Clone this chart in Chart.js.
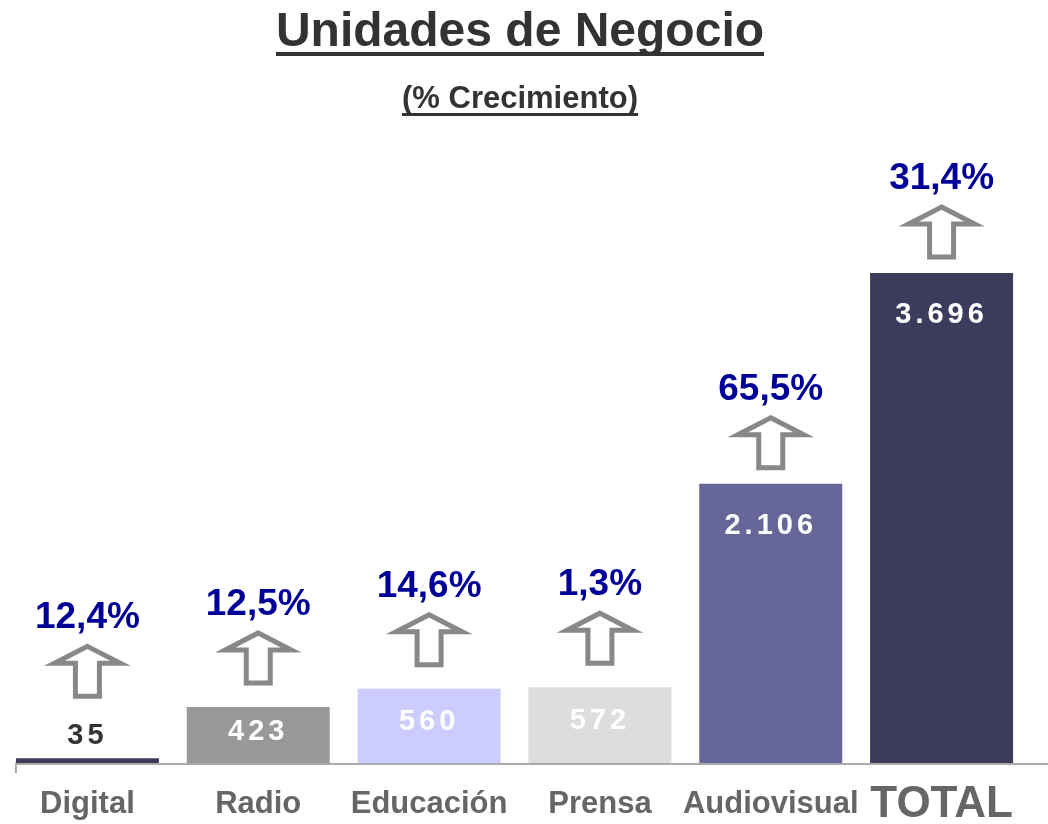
<!DOCTYPE html>
<html>
<head>
<meta charset="utf-8">
<script src="https://cdn.jsdelivr.net/npm/chart.js@4/dist/chart.umd.min.js"></script>
<style>
  body { margin: 0; background: #fff; }
  #wrap { position: relative; width: 1048px; height: 824px; font-family: "Liberation Sans", Arial, sans-serif; }
  #chart { position: absolute; left: 0; top: 0; }
  .title {
    position: absolute; left: 0; width: 1040px; text-align: center;
    font-weight: bold; color: #333; text-decoration: underline;
    text-decoration-skip-ink: none;
  }
  #t1 { top: 6px; font-size: 48px; line-height: 48px; text-decoration-thickness: 4px; text-underline-offset: 6px; }
  #t2 { top: 82px; font-size: 31px; line-height: 31px; text-decoration-thickness: 3px; text-underline-offset: 5px; }
</style>
</head>
<body>
<div id="wrap">
  <canvas id="chart" width="1048" height="824"></canvas>
  <div class="title" id="t1">Unidades de Negocio</div>
  <div class="title" id="t2">(% Crecimiento)</div>
</div>
<script>
const categories = ['Digital', 'Radio', 'Educación', 'Prensa', 'Audiovisual', 'TOTAL'];
const values = [35, 423, 560, 572, 2106, 3696];
const growth = [12.4, 12.5, 14.6, 1.3, 65.5, 31.4];
const barColors = ['#3b3b5c', '#999999', '#ccccff', '#dddddd', '#666699', '#3b3b5c'];

const fontFamily = '"Liberation Sans", Arial, sans-serif';

function fmtValue(v) {
  return String(v).replace(/\B(?=(\d{3})+(?!\d))/g, '.');
}

function fmtGrowth(g) {
  return g.toFixed(1).replace('.', ',') + '%';
}

function drawArrow(ctx, x, tip) {
  const headW = 33, shaftW = 12, headH = 17, total = 50;
  ctx.beginPath();
  ctx.moveTo(x, tip);
  ctx.lineTo(x + headW, tip + headH);
  ctx.lineTo(x + shaftW, tip + headH);
  ctx.lineTo(x + shaftW, tip + total);
  ctx.lineTo(x - shaftW, tip + total);
  ctx.lineTo(x - shaftW, tip + headH);
  ctx.lineTo(x - headW, tip + headH);
  ctx.closePath();
  ctx.fillStyle = '#ffffff';
  ctx.fill();
  ctx.lineWidth = 5;
  ctx.lineJoin = 'miter';
  ctx.strokeStyle = '#888888';
  ctx.stroke();
}

// axis line, labels inside bars, arrows and growth figures
const annotations = {
  id: 'annotations',
  afterDatasetsDraw(chart) {
    const ctx = chart.ctx;
    const meta = chart.getDatasetMeta(0);
    const area = chart.chartArea;
    const first = meta.data[0];
    const axisLeft = first.x - first.width / 2;

    ctx.save();
    ctx.strokeStyle = '#aaaaaa';
    ctx.lineWidth = 2;
    ctx.beginPath();
    ctx.moveTo(axisLeft, area.bottom + 1);
    ctx.lineTo(chart.width, area.bottom + 1);
    ctx.moveTo(axisLeft, area.bottom);
    ctx.lineTo(axisLeft, area.bottom + 10);
    ctx.stroke();

    meta.data.forEach((bar, i) => {
      const x = bar.x;
      const top = bar.y;
      const h = bar.base - top;
      const outside = h < 30;

      ctx.font = 'bold 29px ' + fontFamily;
      ctx.letterSpacing = '4px';
      ctx.textAlign = 'center';
      ctx.textBaseline = 'middle';
      ctx.fillStyle = outside ? '#333333' : '#ffffff';
      const vy = outside ? top - 22 : top + Math.min(42, h * 0.45);
      ctx.fillText(fmtValue(values[i]), x, vy);
      ctx.letterSpacing = '0px';

      let gap = 24;
      if (outside) gap = 62;
      else if (h > 200) gap = 16;
      const tip = top - gap - 50;
      drawArrow(ctx, x, tip);

      ctx.font = 'bold 37px ' + fontFamily;
      ctx.textBaseline = 'alphabetic';
      ctx.fillStyle = '#000099';
      ctx.fillText(fmtGrowth(growth[i]), x, tip - 18);
    });
    ctx.restore();
  }
};

new Chart(document.getElementById('chart').getContext('2d'), {
  type: 'bar',
  data: {
    labels: categories,
    datasets: [{
      data: values,
      backgroundColor: barColors,
      borderWidth: 0,
      categoryPercentage: 1,
      barPercentage: 0.837
    }]
  },
  options: {
    responsive: false,
    animation: false,
    layout: { padding: { left: 2, right: 21, top: 140, bottom: 0 } },
    plugins: { legend: { display: false }, tooltip: { enabled: false } },
    scales: {
      x: {
        grid: { display: false, drawTicks: false },
        border: { display: false },
        afterFit: scale => { scale.height = 61; },
        ticks: {
          color: '#666666',
          padding: 28,
          autoSkip: false,
          maxRotation: 0,
          font: ctx => ctx.index === 5
            ? { family: fontFamily, size: 44, weight: 'bold', lineHeight: '27px' }
            : { family: fontFamily, size: 31, weight: 'bold', lineHeight: '27px' }
        }
      },
      y: { display: false, min: 0, max: 4700 }
    }
  },
  plugins: [annotations]
});
</script>
</body>
</html>
